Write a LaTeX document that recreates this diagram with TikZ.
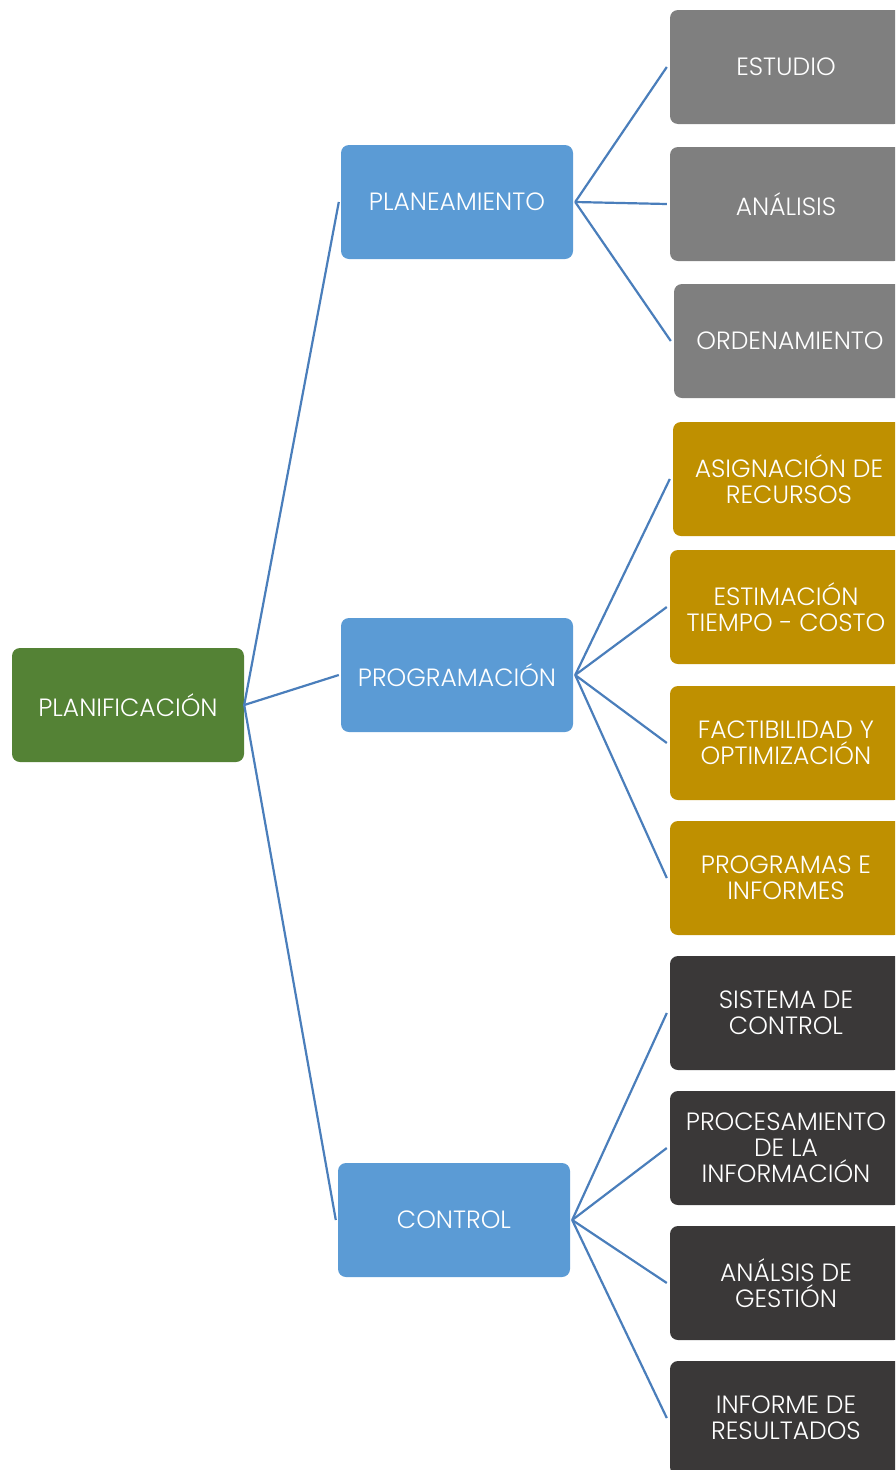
\documentclass[tikz,border=0pt]{standalone}
\usepackage{fontspec}
\setmainfont{Poppins}[UprightFont=* Light]
\begin{document}
\begin{tikzpicture}[x=1pt,y=-1pt,
  box/.style={rounded corners=8pt, minimum width=232pt, minimum height=114pt,
    inner sep=0pt, text=white, align=center,
    font=\fontsize{25}{26}\selectfont},
  root/.style={box, fill=rootgreen},
  mid/.style={box, fill=midblue},
  leafA/.style={box, fill=leafgray},
  leafB/.style={box, fill=leafgold},
  leafC/.style={box, fill=leafdark},
  link/.style={draw=linkblue, line width=2.2pt}]
\definecolor{rootgreen}{HTML}{548235}
\definecolor{midblue}{HTML}{5B9BD5}
\definecolor{leafgray}{HTML}{7F7F7F}
\definecolor{leafgold}{HTML}{BF9000}
\definecolor{leafdark}{HTML}{3A3838}
\definecolor{linkblue}{HTML}{4A7EBB}
\useasboundingbox (0,0) rectangle (895,1470);
\clip (0,0) rectangle (895,1470);

% levels
\node[root] (plan) at (128,705) {PLANIFICACIÓN};
\node[mid] (planea) at (457,202) {PLANEAMIENTO};
\node[mid] (progr) at (457,675) {PROGRAMACIÓN};
\node[mid] (contr) at (454,1220) {CONTROL};

% leaves
\node[leafA] (estu) at (786,67) {ESTUDIO};
\node[leafA] (anal) at (786,204) {ANÁLISIS};
\node[leafA] (orde) at (790,341) {ORDENAMIENTO};
\node[leafB] (asig) at (789,479) {ASIGNACIÓN DE\\RECURSOS};
\node[leafB] (esti) at (786,607) {ESTIMACIÓN\\TIEMPO - COSTO};
\node[leafB] (fact) at (786,743) {FACTIBILIDAD Y\\OPTIMIZACIÓN};
\node[leafB] (prog) at (786,878) {PROGRAMAS E\\INFORMES};
\node[leafC] (sist) at (786,1013) {SISTEMA DE\\CONTROL};
\node[leafC] (proc) at (786,1148) {PROCESAMIENTO\\DE LA\\INFORMACIÓN};
\node[leafC] (gest) at (786,1283) {ANÁLSIS DE\\GESTIÓN};
\node[leafC] (info) at (786,1418) {INFORME DE\\RESULTADOS};

% connectors
\draw[link] (plan.east) -- ([xshift=-2pt]planea.west);
\draw[link] (plan.east) -- ([xshift=-2pt]progr.west);
\draw[link] (plan.east) -- ([xshift=-2pt]contr.west);
\foreach \c in {estu,anal,orde}
  \draw[link] ([xshift=2pt]planea.east) -- ([xshift=-3pt]\c.west);
\foreach \c in {asig,esti,fact,prog}
  \draw[link] ([xshift=2pt]progr.east) -- ([xshift=-3pt]\c.west);
\foreach \c in {sist,proc,gest,info}
  \draw[link] ([xshift=2pt]contr.east) -- ([xshift=-3pt]\c.west);
\end{tikzpicture}
\end{document}
